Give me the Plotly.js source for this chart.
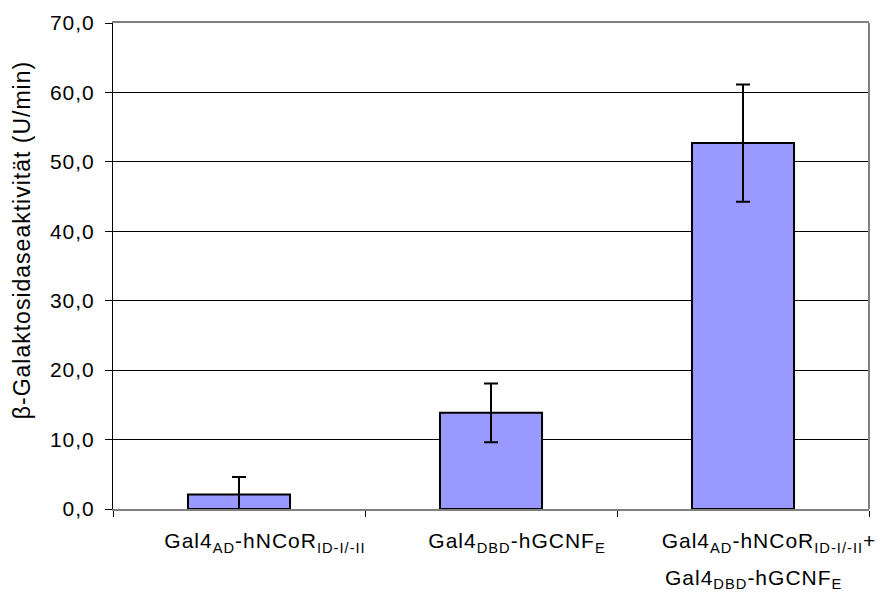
<!DOCTYPE html>
<html>
<head>
<meta charset="utf-8">
<script src="https://cdn.plot.ly/plotly-3.0.1.min.js"></script>
<style>
body{margin:0;padding:0;background:#fff}
.xtick text, .ytick text, .annotation-text { letter-spacing: 1px; }
</style>
</head>
<body>
<div id="chart" style="width:883px;height:592px"></div>
<script>
// category labels: first line (tick label) and second line (wrapped part)
const categories = [
  "Gal4<sub>AD</sub>-hNCoR<sub>ID-I/-II</sub>",
  "Gal4<sub>DBD</sub>-hGCNF<sub>E</sub>",
  "Gal4<sub>AD</sub>-hNCoR<sub>ID-I/-II</sub>+"
];
const categoriesLine2 = ["", "", "Gal4<sub>DBD</sub>-hGCNF<sub>E</sub>"];
const activity = [2.1, 13.85, 52.7];
const errors = [2.5, 4.23, 8.44];
const yTitle = "β-Galaktosidaseaktivität (U/min)";

const font = "Arial, 'Liberation Sans', sans-serif";

const trace = {
  type: "bar",
  x: categories,
  y: activity,
  marker: {color: "#9999FF", line: {color: "#000000", width: 2}},
  error_y: {type: "data", array: errors, visible: true, color: "#000000", thickness: 2, width: 7},
  hoverinfo: "none"
};

const annotations = categories.map((c, i) => categoriesLine2[i] ? {
  x: c, xref: "x", y: 0, yref: "paper",
  text: categoriesLine2[i], showarrow: false,
  xanchor: "left", yanchor: "top", xshift: -80, yshift: -55,
  font: {family: font, size: 21, color: "#000"}
} : null).filter(a => a);

// y-axis title
annotations.push({
  x: 0, xref: "paper", y: 0.553, yref: "paper",
  text: yTitle, showarrow: false, textangle: -90,
  xanchor: "center", yanchor: "middle", xshift: -91,
  font: {family: font, size: 23, color: "#000"}
});

const layout = {
  width: 883, height: 592,
  margin: {l: 113, r: 14, t: 23, b: 83},
  paper_bgcolor: "#fff", plot_bgcolor: "#fff",
  separators: ",.",
  showlegend: false,
  bargap: 0.595,
  font: {family: font, color: "#000", size: 20},
  xaxis: {
    type: "category",
    tickson: "boundaries",
    ticks: "outside", ticklen: 6, tickcolor: "#000", tickwidth: 1,
    showline: true, linecolor: "#808080", linewidth: 2, mirror: true,
    showgrid: false,
    tickfont: {family: font, size: 21, color: "#000"},
    ticklabelstandoff: 12,
    ticklabelshift: 26,
    fixedrange: true
  },
  yaxis: {
    range: [0, 70], dtick: 10, tick0: 0,
    tickformat: ".1f",
    ticks: "outside", ticklen: 7, tickcolor: "#000", tickwidth: 1,
    showline: true, linecolor: "#000", linewidth: 1,
    showgrid: true, gridcolor: "#000", gridwidth: 1,
    zeroline: false,
    tickfont: {family: font, size: 21, color: "#000"},
    ticklabelstandoff: 6,
    fixedrange: true
  },
  annotations: annotations,
  shapes: [
    {type: "line", xref: "paper", yref: "paper", x0: 1, x1: 1, y0: 0, y1: 1, line: {color: "#808080", width: 2}}
  ]
};

Plotly.newPlot("chart", [trace], layout, {displayModeBar: false, staticPlot: true});
</script>
</body>
</html>
